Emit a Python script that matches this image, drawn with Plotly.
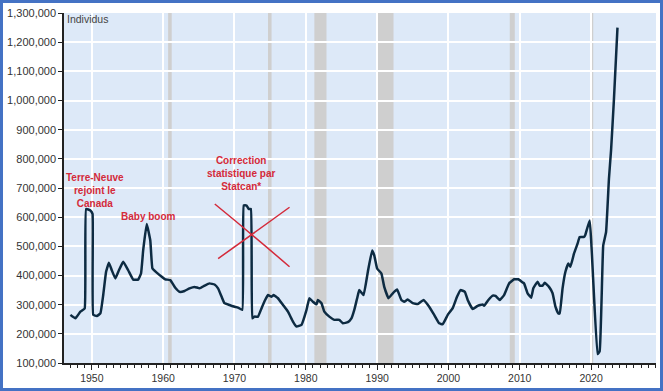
import plotly.graph_objects as go

# Quarterly-ish readings (year, persons)
years = [1947.0, 1947.7, 1948.4, 1949.0, 1949.2, 1949.8, 1950.1, 1950.2, 1950.7, 1951.2,
         1951.6, 1952.0, 1952.4, 1952.8, 1953.3, 1953.8, 1954.4, 1955.1, 1955.8, 1956.5,
         1956.9, 1957.2, 1957.7, 1958.2, 1958.5, 1959.1, 1959.8, 1960.3, 1961.0, 1961.7,
         1962.3, 1963.0, 1963.7, 1964.4, 1965.1, 1965.8, 1966.5, 1967.2, 1967.7, 1968.2,
         1968.6, 1969.3, 1970.0, 1970.5, 1971.1, 1971.3, 1971.7, 1972.0, 1972.3, 1972.5,
         1972.8, 1973.3, 1973.8, 1974.3, 1974.7, 1975.2, 1975.5, 1976.1, 1976.8, 1977.5,
         1978.2, 1978.7, 1979.4, 1980.1, 1980.5, 1981.0, 1981.5, 1981.7, 1982.2, 1982.6,
         1983.3, 1984.0, 1984.7, 1985.2, 1985.9, 1986.4, 1986.8, 1987.2, 1987.5, 1988.1,
         1988.7, 1989.3, 1989.6, 1990.0, 1990.6, 1991.0, 1991.6, 1992.2, 1992.8, 1993.4,
         1993.8, 1994.3, 1995.0, 1995.7, 1996.5, 1997.3, 1998.0, 1998.7, 1999.2, 1999.9,
         2000.6, 2001.2, 2001.7, 2002.3, 2002.7, 2003.4, 2004.1, 2004.8, 2005.0, 2005.6,
         2006.2, 2006.6, 2007.2, 2007.8, 2008.5, 2009.2, 2009.8, 2010.4, 2010.6, 2011.1,
         2011.6, 2011.9, 2012.5, 2012.8, 2013.2, 2013.5, 2014.1, 2014.6, 2015.0, 2015.4,
         2015.6, 2016.0, 2016.4, 2016.8, 2017.1, 2017.6, 2018.1, 2018.4, 2019.0, 2019.2,
         2019.8, 2020.9, 2021.2, 2021.7, 2022.1, 2022.5, 2022.8, 2023.2, 2023.7]
values_k = [265, 253, 276, 287, 628, 623, 611, 265, 261, 270,
            333, 413, 444, 418, 390, 418, 447, 418, 386, 386,
            407, 486, 577, 520, 424, 410, 396, 387, 384, 358,
            344, 347, 356, 361, 356, 365, 373, 369, 356, 327,
            305, 299, 293, 290, 282, 640, 640, 628, 628, 253,
            259, 259, 288, 316, 333, 327, 333, 322, 299, 276,
            242, 225, 231, 282, 322, 310, 301, 316, 305, 276,
            259, 248, 248, 236, 240, 253, 282, 322, 350, 333,
            413, 486, 469, 424, 407, 361, 322, 339, 352, 316,
            310, 318, 305, 302, 316, 293, 265, 236, 233, 265,
            288, 327, 350, 344, 316, 285, 296, 301, 296, 316,
            331, 330, 316, 333, 373, 387, 387, 376, 373, 339,
            324, 356, 379, 365, 365, 375, 361, 339, 293, 270,
            270, 356, 413, 441, 430, 475, 509, 532, 532, 540,
            589, 131, 140, 503, 549, 731, 830, 1003, 1250]
values = [v * 1000 for v in values_k]

# Recession periods (shaded)
recess_start = [1960.7, 1974.7, 1981.2, 1990.1, 2008.6, 2020.1]
recess_end = [1961.2, 1975.2, 1982.9, 1992.3, 2009.3, 2020.3]

red = "#d42a3a"
fig = go.Figure()
fig.add_trace(go.Scatter(x=years, y=values, mode="lines",
                         line=dict(color="#0d2b42", width=2.5, shape="spline", smoothing=0.3),
                         showlegend=False))

shapes = []
for s, e in zip(recess_start, recess_end):
    shapes.append(dict(type="rect", xref="x", yref="paper", x0=s, x1=e, y0=0, y1=1,
                       fillcolor="#cfcfcf", line=dict(width=0), layer="below"))
# red cross
shapes.append(dict(type="path", xref="x", yref="y",
                   path="M 1967.24,645000 Q 1972.5,540000 1977.72,430000",
                   line=dict(color=red, width=1.5)))
shapes.append(dict(type="path", xref="x", yref="y",
                   path="M 1967.71,458000 Q 1972.7,545000 1977.72,634000",
                   line=dict(color=red, width=1.5)))

W, H = 663, 391
L, R, T, B = 62, 7, 13, 26

annots = [
    dict(text="<b>Terre-Neuve<br>rejoint le<br>Canada</b>", x=1950.5, y=690000),
    dict(text="<b>Baby boom</b>", x=1957.97, y=604000),
    dict(text="<b>Correction<br>statistique par<br>Statcan*</b>", x=1970.97, y=751000),
]
annotations = [dict(a, xref="x", yref="y", showarrow=False, xanchor="center", yanchor="middle",
                    font=dict(family="Liberation Sans, Arial", size=10, color=red))
               for a in annots]
annotations.append(dict(text="Individus", xref="paper", yref="paper", x=0, y=1, xshift=1, yshift=2,
                        xanchor="left", yanchor="top", showarrow=False,
                        font=dict(family="Liberation Sans, Arial", size=10.5, color="#444444")))

fig.update_layout(
    width=W, height=H, autosize=False,
    margin=dict(l=L, r=R, t=T, b=B),
    paper_bgcolor="white", plot_bgcolor="#dde9f8",
    font=dict(family="Liberation Sans, Arial", color="#333333"),
    shapes=shapes, annotations=annotations,
    xaxis=dict(range=[1946.1, 2029.1], tick0=1950, dtick=10, ticks="outside", ticklen=5,
               tickcolor="#222", tickwidth=1, showline=True, linecolor="#222", linewidth=1.5,
               showgrid=True, gridcolor="white", gridwidth=1.5, zeroline=False,
               tickfont=dict(size=10.5, color="#333"),
               minor=dict(dtick=1, tick0=1950, ticks="outside", ticklen=3, tickcolor="#222",
                          showgrid=False)),
    yaxis=dict(range=[100000, 1300000], dtick=100000, tick0=100000, tickformat=",",
               ticks="outside", ticklen=4, tickcolor="#222", showline=True, linecolor="#222",
               linewidth=1.5, showgrid=True, gridcolor="white", gridwidth=1.5, zeroline=False,
               tickfont=dict(size=11, color="#333")),
)

frame_js = """
document.body.style.margin = '0';
var fr = document.createElement('div');
fr.style.cssText = 'position:absolute;left:0;top:0;width:663px;height:391px;' +
    'box-sizing:border-box;border:3px solid #4472c4;pointer-events:none;z-index:1000;';
document.body.appendChild(fr);
"""
fig.write_html("out.html", post_script=frame_js, config={"displayModeBar": False})
